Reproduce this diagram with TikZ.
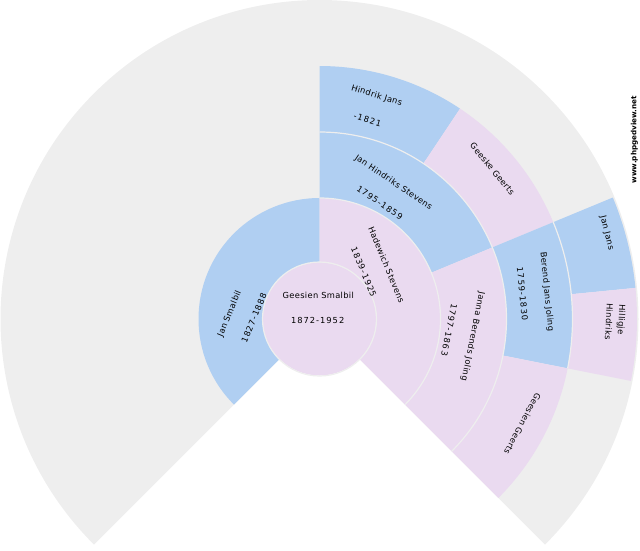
\documentclass[tikz,border=0pt]{standalone}
\usepackage{fontspec}
\setmainfont{DejaVu Sans}
\newfontfamily\labelfont[LetterSpace=4]{DejaVu Sans}
\newfontfamily\datefont[LetterSpace=12]{DejaVu Sans}
\usepackage{xcolor}
\usepackage{tikz}
\usetikzlibrary{calc}
\definecolor{maleblue}{HTML}{B0CFF2}
\definecolor{femalepink}{HTML}{EADAF0}
\definecolor{fangrey}{HTML}{EEEEEE}
%% colour, start angle, end angle, inner radius, outer radius
\newcommand{\fansector}[5]{%
  \fill[#1] ($(centre)+(#2:#5)$) arc[start angle=#2,end angle=#3,radius=#5]
    -- ($(centre)+(#3:#4)$) arc[start angle=#3,end angle=#2,radius=#4] -- cycle;
}
%% start angle, end angle, radius
\newcommand{\fanrim}[3]{%
  \draw[rim] ($(centre)+(#1:#3)$) arc[start angle=#1,end angle=#2,radius=#3];
}
\begin{document}
\begin{tikzpicture}[x=1pt,y=1pt]
        \tikzset{person/.style={font=\labelfont\fontsize{8.3}{10}\selectfont,inner sep=0pt,text=black},
        dates/.style={font=\datefont\fontsize{8.3}{10}\selectfont,inner sep=0pt,text=black},
        rim/.style={draw=fangrey,line width=1.2pt},
        site/.style={font=\bfseries\fontsize{7.2}{8}\selectfont,inner sep=0pt,rotate=90}
        }
        \useasboundingbox (0,0) rectangle (640,-550);
        \coordinate (centre) at (319.5,-319);

%% sectors
        \fill[fangrey] (centre) -- ($(centre)+(225:319)$) arc[start angle=225,end angle=-45,radius=319] -- cycle;
        \fansector{maleblue}{225}{90}{57}{121}
        \fansector{femalepink}{90}{-45}{57}{121}
        \fansector{maleblue}{90}{22.5}{121}{187}
        \fansector{femalepink}{22.5}{-45}{121}{187}
        \fansector{maleblue}{90}{56.25}{187}{253}
        \fansector{femalepink}{56.25}{22.5}{187}{253}
        \fansector{maleblue}{22.5}{-11.25}{187}{253}
        \fansector{femalepink}{-11.25}{-45}{187}{253}
        \fansector{maleblue}{22.5}{5.625}{253}{317.5}
        \fansector{femalepink}{5.625}{-11.25}{253}{317.5}
        \fill[femalepink] (centre) circle[radius=56.5];

%% rims
        \draw[rim] (centre) circle[radius=57];
        \fanrim{90}{-45}{121}
        \fanrim{90}{-45}{187}
        \fanrim{22.5}{-11.25}{253}

%% names
        \node [person] (root1) at (318.3,-295.7) {Geesien Smalbil};
        \node [dates] (root2) at (317.7,-320.3) {1872-1952};
        \node [person,rotate=67.5] (father1) at (229.7,-314) {Jan Smalbil};
        \node [dates,rotate=67.5] (father2) at (254,-318) {1827-1888};
        \node [person,rotate=-67.5] (mother1) at (386.5,-264.7) {Hadewich Stevens};
        \node [dates,rotate=-67.5] (mother2) at (363.8,-272) {1839-1925};
        \node [person,rotate=-33.75] (jan1) at (393.4,-182.7) {Jan Hindriks Stevens};
        \node [dates,rotate=-33.75] (jan2) at (379.8,-202.7) {1795-1859};
        \node [person,rotate=-101.25] (janna1) at (472.7,-336.3) {Janna Berends Joling};
        \node [dates,rotate=-101.25] (janna2) at (449.2,-329.7) {1797-1863};
        \node [person,rotate=-16.875] (hindrik1) at (376.7,-95.7) {Hindrik Jans};
        \node [dates,rotate=-16.875] (hindrik2) at (367.5,-120) {-1821};
        \node [person,rotate=-50.625] (geeske) at (492.5,-168.8) {Geeske Geerts};
        \node [person,rotate=-84.375] (berend1) at (546.7,-291.7) {Berend Jans Joling};
        \node [dates,rotate=-84.375] (berend2) at (522.5,-293.8) {1759-1830};
        \node [person,rotate=-118.125] (geesien) at (522.5,-423.8) {Geesien Geerts};
        \node [person,rotate=-75.9] (janjans) at (606.8,-233) {Jan Jans};
        \node [person,rotate=-92.8] (hilligje1) at (621,-319.5) {Hilligje};
        \node [person,rotate=-92.8] (hilligje2) at (609,-321.5) {Hindriks};
        \node [site] (site) at (634.5,-139.7) {www.phpgedview.net};
\end{tikzpicture}
\end{document}
